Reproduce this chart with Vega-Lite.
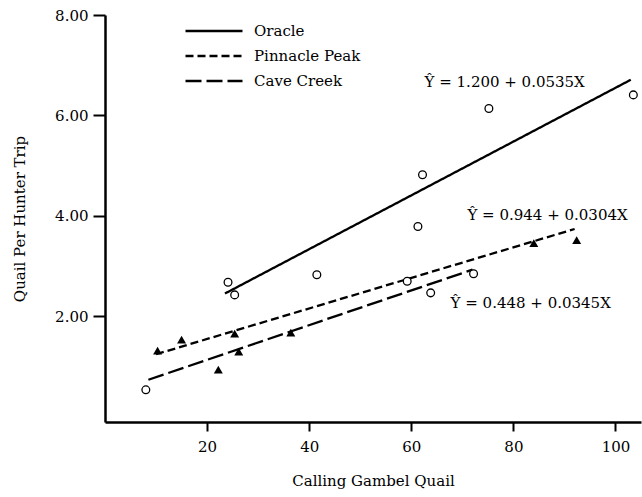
{
  "$schema": "https://vega.github.io/schema/vega-lite/v6.json",
  "width": 536,
  "height": 407,
  "autosize": {"type": "none"},
  "padding": {"left": 105, "top": 15, "right": 1, "bottom": 75},
  "background": "white",
  "config": {
    "font": "DejaVu Serif",
    "view": {"stroke": null},
    "axis": {"grid": false, "domainColor": "black", "tickColor": "black", "labelColor": "black", "titleColor": "black", "labelFont": "DejaVu Serif", "titleFont": "DejaVu Serif", "labelFontSize": 15, "titleFontSize": 15, "titleFontWeight": "normal", "domainWidth": 2.5, "tickWidth": 2}
  },
  "datasets": {
    "fits": [
      {"site": "Oracle", "x": 23.5, "y": 2.457},
      {"site": "Oracle", "x": 103, "y": 6.711},
      {"site": "Pinnacle Peak", "x": 10, "y": 1.248},
      {"site": "Pinnacle Peak", "x": 92, "y": 3.741},
      {"site": "Cave Creek", "x": 8.5, "y": 0.741},
      {"site": "Cave Creek", "x": 72, "y": 2.932}
    ],
    "obs": [
      {"site": "Oracle", "marker": "circle", "x": 24.1, "y": 2.68},
      {"site": "Oracle", "marker": "circle", "x": 25.4, "y": 2.43},
      {"site": "Oracle", "marker": "circle", "x": 41.5, "y": 2.83},
      {"site": "Oracle", "marker": "circle", "x": 61.3, "y": 3.79},
      {"site": "Oracle", "marker": "circle", "x": 62.2, "y": 4.82},
      {"site": "Oracle", "marker": "circle", "x": 75.2, "y": 6.14},
      {"site": "Oracle", "marker": "circle", "x": 103.5, "y": 6.41},
      {"site": "Pinnacle Peak", "marker": "triangle", "x": 10.3, "y": 1.32},
      {"site": "Pinnacle Peak", "marker": "triangle", "x": 15.0, "y": 1.54},
      {"site": "Pinnacle Peak", "marker": "triangle", "x": 25.4, "y": 1.66},
      {"site": "Pinnacle Peak", "marker": "circle", "x": 59.2, "y": 2.70},
      {"site": "Pinnacle Peak", "marker": "triangle", "x": 84.0, "y": 3.46},
      {"site": "Pinnacle Peak", "marker": "triangle", "x": 92.4, "y": 3.52},
      {"site": "Cave Creek", "marker": "circle", "x": 8.0, "y": 0.54},
      {"site": "Cave Creek", "marker": "triangle", "x": 22.2, "y": 0.94},
      {"site": "Cave Creek", "marker": "triangle", "x": 26.2, "y": 1.30},
      {"site": "Cave Creek", "marker": "triangle", "x": 36.4, "y": 1.68},
      {"site": "Cave Creek", "marker": "circle", "x": 63.8, "y": 2.47},
      {"site": "Cave Creek", "marker": "circle", "x": 72.2, "y": 2.85}
    ],
    "eqs": [
      {"label": "Ŷ = 1.200 + 0.0535X", "x": 62.6, "y": 6.67},
      {"label": "Ŷ = 0.944 + 0.0304X", "x": 71.0, "y": 4.02},
      {"label": "Ŷ = 0.448 + 0.0345X", "x": 67.7, "y": 2.27}
    ]
  },
  "layer": [
    {
      "data": {"name": "fits"},
      "mark": {"type": "line", "color": "black", "strokeWidth": 2.3},
      "encoding": {
        "x": {"field": "x", "type": "quantitative", "scale": {"domain": [0, 105], "nice": false, "zero": false}, "axis": {"title": "Calling Gambel Quail", "values": [20, 40, 60, 80, 100], "tickSize": 9, "labelPadding": 8, "titlePadding": 19}},
        "y": {"field": "y", "type": "quantitative", "scale": {"domain": [-0.1, 8], "nice": false, "zero": false}, "axis": {"title": "Quail Per Hunter Trip", "values": [2, 4, 6, 8], "format": ".2f", "tickSize": 12, "labelPadding": 5, "titlePadding": 27}},
        "strokeDash": {"field": "site", "type": "nominal", "scale": {"domain": ["Oracle", "Pinnacle Peak", "Cave Creek"], "range": [[1, 0], [8, 4], [16, 5]]},
          "legend": {"title": null, "orient": "none", "legendX": 98, "legendY": 5, "symbolType": "M-3,0H3", "symbolSize": 361, "symbolStrokeColor": "black", "symbolStrokeWidth": 2.3, "labelFont": "DejaVu Serif", "labelFontSize": 15, "labelColor": "black", "rowPadding": 6, "labelOffset": 29}}
      }
    },
    {
      "data": {"name": "obs"},
      "transform": [{"filter": "datum.marker === 'circle'"}],
      "mark": {"type": "point", "shape": "circle", "size": 60, "stroke": "black", "strokeWidth": 1.3, "fill": "white", "filled": false, "opacity": 1},
      "encoding": {
        "x": {"field": "x", "type": "quantitative"},
        "y": {"field": "y", "type": "quantitative"}
      }
    },
    {
      "data": {"name": "obs"},
      "transform": [{"filter": "datum.marker === 'triangle'"}],
      "mark": {"type": "point", "shape": "triangle-up", "size": 80, "color": "black", "filled": true, "opacity": 1},
      "encoding": {
        "x": {"field": "x", "type": "quantitative"},
        "y": {"field": "y", "type": "quantitative"}
      }
    },
    {
      "data": {"name": "eqs"},
      "mark": {"type": "text", "align": "left", "baseline": "middle", "font": "DejaVu Serif", "fontSize": 15, "color": "black"},
      "encoding": {
        "x": {"field": "x", "type": "quantitative"},
        "y": {"field": "y", "type": "quantitative"},
        "text": {"field": "label"}
      }
    }
  ]
}
